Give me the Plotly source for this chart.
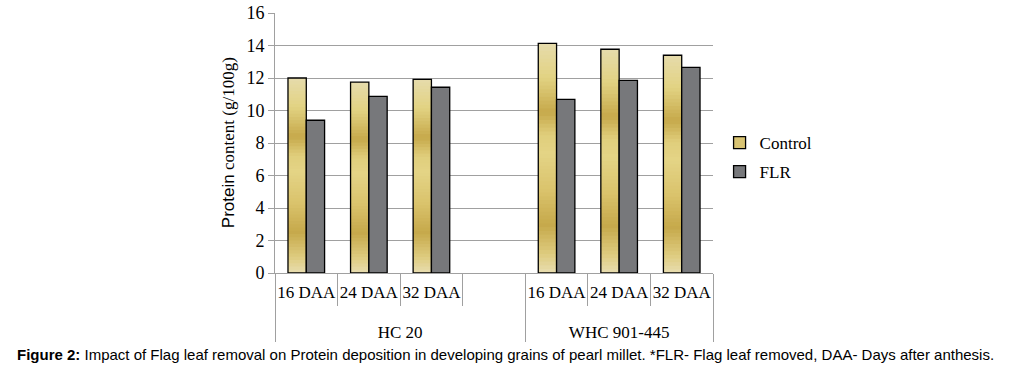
import plotly.graph_objects as go

# ---- data ----
groups = ["HC 20", "HC 20", "HC 20", "HC 20", "WHC 901-445", "WHC 901-445", "WHC 901-445"]
stages = ["16 DAA", "24 DAA", "32 DAA", " ", "16 DAA", "24 DAA", "32 DAA"]
control = [12.0, 11.75, 11.92, None, 14.13, 13.77, 13.40]
flr = [9.40, 10.87, 11.43, None, 10.69, 11.86, 12.66]
y_ticks = [0, 2, 4, 6, 8, 10, 12, 14, 16]
caption = ("<b>Figure 2:</b> Impact of Flag leaf removal on Protein deposition in developing "
           "grains of pearl millet. *FLR- Flag leaf removed, DAA- Days after anthesis.")

# ---- gold gradient (bottom -> top) ----
stops = [(0.00, (232, 221, 176)), (0.08, (222, 204, 128)), (0.21, (198, 169, 75)),
         (0.36, (218, 195, 108)), (0.52, (228, 212, 134)), (0.60, (224, 206, 124)),
         (0.70, (198, 169, 75)), (0.85, (226, 210, 130)), (1.00, (230, 220, 172))]


def grad(f):
    for (f0, c0), (f1, c1) in zip(stops[:-1], stops[1:]):
        if f0 <= f <= f1:
            t = (f - f0) / (f1 - f0)
            return "rgb(%d,%d,%d)" % tuple(round(a + (b - a) * t) for a, b in zip(c0, c1))
    return "rgb(%d,%d,%d)" % stops[-1][1]


# group labels drop one line below the stage labels, as in the reference
x = [["<br>" + g for g in groups], stages]
N = 60
fig = go.Figure()
for i in range(N):
    base = [None if v is None else v * i / N for v in control]
    top = [None if v is None else v * min(i + 1.6, N) / N for v in control]
    h = [None if v is None else t - b for v, t, b in zip(control, top, base)]
    fig.add_trace(go.Bar(x=x, y=h, base=base, offsetgroup="ctrl",
                         marker=dict(color=grad((i + 0.5) / N), line=dict(width=0)),
                         showlegend=False, hoverinfo="skip"))
# outline for control bars
fig.add_trace(go.Bar(x=x, y=control, offsetgroup="ctrl", name="Control",
                     marker=dict(color="rgba(0,0,0,0)", line=dict(color="black", width=1.3)),
                     showlegend=False))
fig.add_trace(go.Bar(x=x, y=flr, offsetgroup="flr", name="FLR",
                     marker=dict(color="#77787b", line=dict(color="black", width=1.3)),
                     legend="legend2"))
# legend entry for control
fig.add_trace(go.Bar(x=[[x[0][0]], [stages[0]]], y=[None], offsetgroup="ctrl", name="Control",
                     marker=dict(color="#d9c473", line=dict(color="black", width=1.3)),
                     legend="legend"))

grid = "#a0a0a0"
fig.update_layout(
    width=1012, height=369,
    margin=dict(l=275, r=299, t=13, b=96),
    paper_bgcolor="white", plot_bgcolor="white",
    barmode="group", bargap=0.415, bargroupgap=0,
    font=dict(family="Liberation Serif", size=17, color="black"),
    legend=dict(x=1.015, y=0.5, xanchor="left", yanchor="middle", bgcolor="rgba(0,0,0,0)",
                font=dict(family="Liberation Serif", size=17)),
    legend2=dict(x=1.015, y=0.388, xanchor="left", yanchor="middle", bgcolor="rgba(0,0,0,0)",
                 font=dict(family="Liberation Serif", size=17)),
    showlegend=True,
)
fig.update_yaxes(range=[0, 16], tickvals=y_ticks, showgrid=True, gridcolor=grid, gridwidth=1,
                 showline=True, linecolor=grid, linewidth=1, ticks="outside", ticklen=6,
                 tickcolor=grid, zeroline=False, tickfont=dict(size=18), automargin=False)
fig.update_xaxes(type="multicategory", showline=True, linecolor=grid, linewidth=1,
                 ticks="outside", tickson="boundaries", ticklen=32, tickcolor=grid,
                 showdividers=True, dividercolor=grid, dividerwidth=1, tickangle=0,
                 ticklabelstandoff=4, tickfont=dict(size=17), automargin=False)
fig.add_annotation(text='<span style="font-family:Liberation Sans">Protein</span> content (g/100g)',
                   xref="paper", yref="paper", x=-0.107, y=0.5, textangle=-90,
                   showarrow=False, xanchor="center", yanchor="middle",
                   font=dict(family="Liberation Serif", size=17))
fig.add_annotation(text=caption, xref="paper", yref="paper", x=0.527, y=-0.315,
                   showarrow=False, xanchor="center", yanchor="middle",
                   font=dict(family="Liberation Sans", size=15))
fig.write_html("out.html", config={"displayModeBar": False},
               post_script="document.body.style.margin='0';")
